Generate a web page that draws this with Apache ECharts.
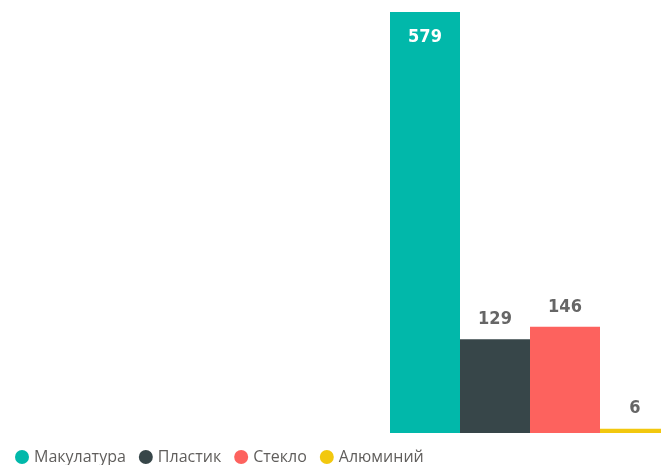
<!DOCTYPE html>
<html><head><meta charset="utf-8">
<script src="https://cdn.jsdelivr.net/npm/echarts@6/dist/echarts.min.js"></script>
<style>html,body{margin:0;padding:0;background:#fff}#c{width:661px;height:465px}</style>
</head><body><div id="c"></div>
<script>
var categories = [''];
var seriesNames = ['Макулатура', 'Пластик', 'Стекло', 'Алюминий'];
var values = [579, 129, 146, 6];
var colors = ['#01B8AA', '#374649', '#FD625E', '#F2C80F'];

var chart = echarts.init(document.getElementById('c'));
var series = seriesNames.map(function (n, i) {
  var inside = i === 0;
  return {
    name: n, type: 'bar', data: [values[i]],
    barGap: '0%', barCategoryGap: '0%', barWidth: 70, clip: false,
    itemStyle: { color: colors[i] },
    label: {
      show: true,
      position: inside ? 'insideTop' : 'top',
      distance: inside ? 16 : 11,
      color: inside ? '#ffffff' : '#666666',
      fontFamily: '"DejaVu Sans Condensed", Roboto',
      fontWeight: 'bold',
      fontSize: 18
    }
  };
});
chart.setOption({
  animation: false,
  grid: { left: 399, right: 0, top: 12, bottom: 32 },
  xAxis: { type: 'category', data: categories, axisLine: { show: false }, axisTick: { show: false }, axisLabel: { show: false } },
  yAxis: { type: 'value', min: 0, max: 'dataMax', show: false, splitLine: { show: false } },
  legend: {
    data: seriesNames, icon: 'circle', itemWidth: 14, itemHeight: 14, itemGap: 13,
    left: 10, top: 444,
    textStyle: { color: '#605E5C', fontFamily: 'Open Sans', fontSize: 16 }
  },
  series: series
});
</script></body></html>
